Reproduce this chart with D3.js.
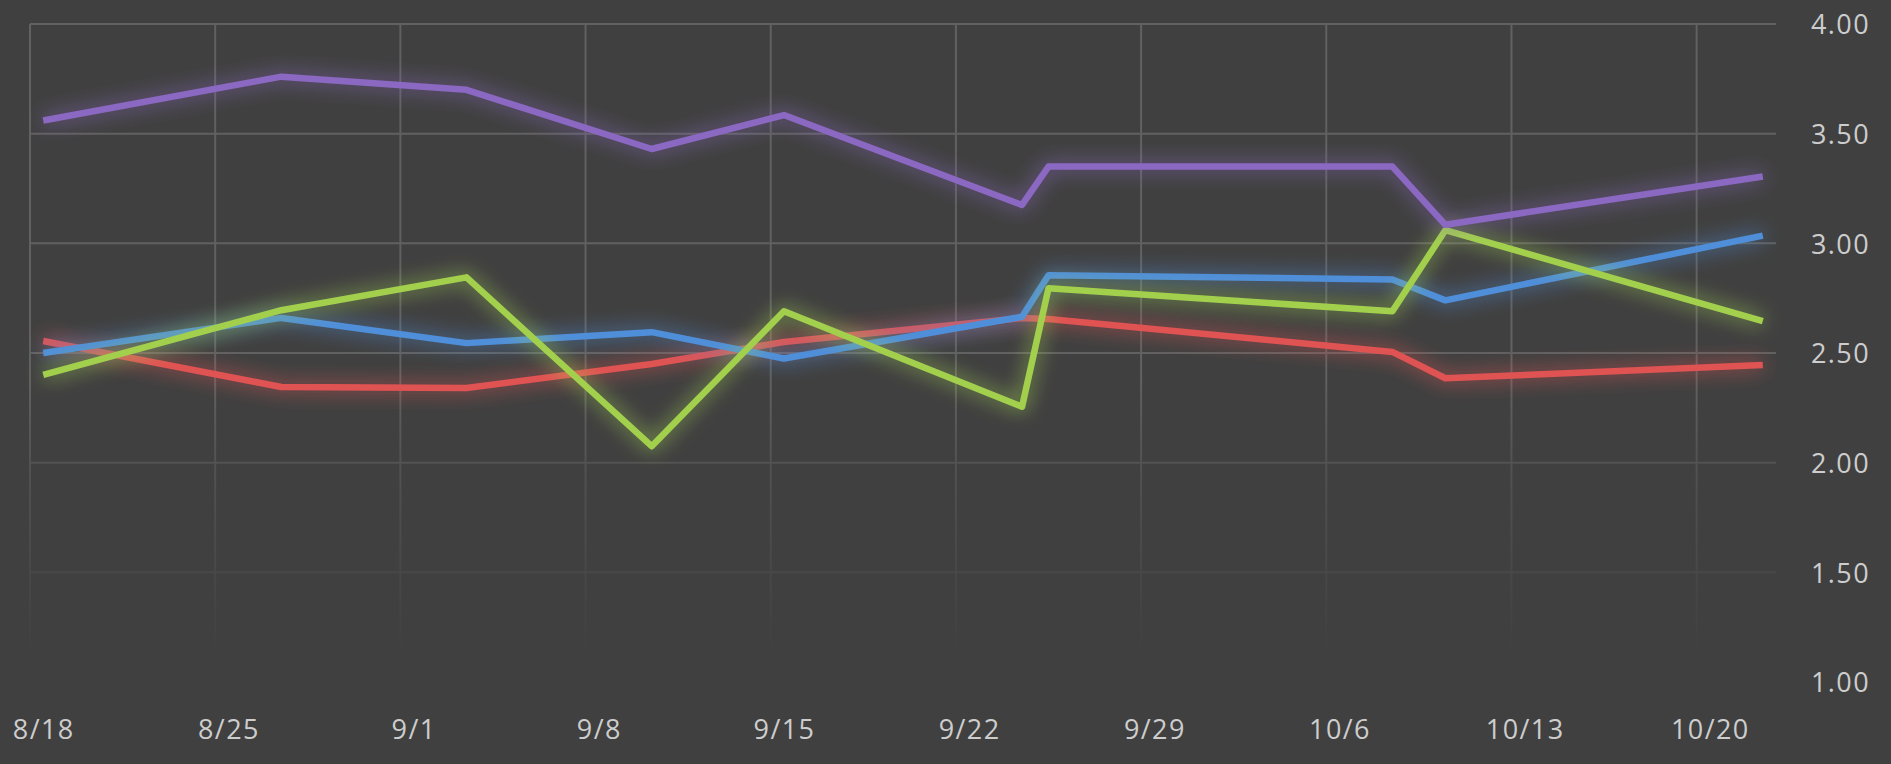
<!DOCTYPE html>
<html>
<head>
<meta charset="utf-8">
<script src="https://cdn.jsdelivr.net/npm/d3@7"></script>
<style>
	html, body { margin: 0; padding: 0; background: #404040; overflow: hidden; }
	text { font-family: "Open Sans", sans-serif; }
</style>
</head>
<body>
<div id="chart-area"></div>
<script>
// DATA
const dates = ["2019-08-18", "2019-08-27", "2019-09-03", "2019-09-10", "2019-09-15",
	"2019-09-24", "2019-09-25", "2019-10-08", "2019-10-10", "2019-10-22"]
const redValues    = [2.555, 2.345, 2.34, 2.45, 2.55, 2.66, 2.655, 2.505, 2.385, 2.445]
const blueValues   = [2.50, 2.66, 2.545, 2.595, 2.475, 2.665, 2.855, 2.835, 2.74, 3.035]
const purpleValues = [3.56, 3.76, 3.70, 3.43, 3.585, 3.175, 3.35, 3.35, 3.085, 3.305]
const greenValues  = [2.40, 2.695, 2.845, 2.075, 2.69, 2.255, 2.795, 2.69, 3.06, 2.645]
const xTickLabels = ["8/18", "8/25", "9/1", "9/8", "9/15", "9/22", "9/29", "10/6", "10/13", "10/20"]
const yTicks = [1.00, 1.50, 2.00, 2.50, 3.00, 3.50, 4.00]

// drawing order: first is at the bottom
const series = [
	{ name: "red",    color: "#e05252", values: redValues },
	{ name: "blue",   color: "#4f8fd9", values: blueValues },
	{ name: "green",  color: "#a2d04e", values: greenValues },
	{ name: "purple", color: "#8b68c2", values: purpleValues }
]

// AREA
const AREA_WIDTH = 1891
const AREA_HEIGHT = 764
const PLOT = { LEFT: 30, RIGHT: 1776, TOP: 24, BOTTOM: 682 }

const parse = d3.utcParse("%Y-%m-%d")
const dayDates = dates.map(parse)
const tickDates = xTickLabels.map(s => {
	const [m, d] = s.split("/").map(Number)
	return new Date(Date.UTC(2019, m - 1, d))
})

const svg = d3.select("#chart-area").append("svg")
	.attr("width", AREA_WIDTH)
	.attr("height", AREA_HEIGHT)

// background
svg.append("rect")
	.attr("width", AREA_WIDTH)
	.attr("height", AREA_HEIGHT)
	.attr("fill", "#404040")

const defs = svg.append("defs")

// grid fades out towards the bottom
const fade = defs.append("linearGradient")
	.attr("id", "fade")
	.attr("gradientUnits", "userSpaceOnUse")
	.attr("x1", 0).attr("x2", 0)
	.attr("y1", 0).attr("y2", AREA_HEIGHT)
fade.append("stop").attr("offset", 380 / AREA_HEIGHT).attr("stop-color", "#fff")
fade.append("stop").attr("offset", 470 / AREA_HEIGHT).attr("stop-color", "#888")
fade.append("stop").attr("offset", 660 / AREA_HEIGHT).attr("stop-color", "#000")
defs.append("mask")
	.attr("id", "gridMask")
	.attr("maskUnits", "userSpaceOnUse")
	.attr("x", 0).attr("y", 0)
	.attr("width", AREA_WIDTH).attr("height", AREA_HEIGHT)
	.append("rect")
	.attr("width", AREA_WIDTH)
	.attr("height", AREA_HEIGHT)
	.attr("fill", "url(#fade)")

// soft glow around the lines
const glow = defs.append("filter")
	.attr("id", "glow")
	.attr("x", "-10%").attr("y", "-40%")
	.attr("width", "120%").attr("height", "180%")
glow.append("feGaussianBlur")
	.attr("in", "SourceGraphic")
	.attr("stdDeviation", 10)
	.attr("result", "blur")
glow.append("feComponentTransfer")
	.attr("in", "blur")
	.attr("result", "soft")
	.append("feFuncA").attr("type", "linear").attr("slope", 0.95)
const merge = glow.append("feMerge")
merge.append("feMergeNode").attr("in", "soft")
merge.append("feMergeNode").attr("in", "SourceGraphic")

// SCALES (category dates sit between the tick marks, half a day each side)
const x = d3.scaleUtc()
	.domain([d3.utcHour.offset(dayDates[0], -12), d3.utcHour.offset(dayDates[dayDates.length - 1], 12)])
	.range([PLOT.LEFT, PLOT.RIGHT])

const y = d3.scaleLinear()
	.domain([1, 4])
	.range([PLOT.BOTTOM, PLOT.TOP])

// GRID
const grid = svg.append("g").attr("mask", "url(#gridMask)")

grid.selectAll(".hgrid")
	.data(yTicks)
	.enter().append("line")
	.attr("class", "hgrid")
	.attr("x1", PLOT.LEFT)
	.attr("x2", PLOT.RIGHT)
	.attr("y1", d => y(d))
	.attr("y2", d => y(d))
	.attr("stroke", "#616161")
	.attr("stroke-width", 2)

grid.selectAll(".vgrid")
	.data(tickDates)
	.enter().append("line")
	.attr("class", "vgrid")
	.attr("x1", d => x(d3.utcHour.offset(d, -12)))
	.attr("x2", d => x(d3.utcHour.offset(d, -12)))
	.attr("y1", PLOT.TOP)
	.attr("y2", PLOT.BOTTOM)
	.attr("stroke", "#616161")
	.attr("stroke-width", 2)

// AXES
const xAxisCall = d3.axisBottom(x)
	.tickValues(tickDates)
	.tickFormat((d, i) => xTickLabels[i])
	.tickSize(0)
	.tickPadding(0)

const xAxis = svg.append("g")
	.attr("transform", "translate(0, 739)")
	.call(xAxisCall)
xAxis.select(".domain").remove()
xAxis.selectAll("text")
	.attr("dy", 0)
	.attr("fill", "#cdcdcd")
	.attr("font-size", "27px")
	.attr("letter-spacing", "1.4px")

const yAxisCall = d3.axisRight(y)
	.tickValues(yTicks)
	.tickFormat(d3.format(".2f"))
	.tickSize(0)
	.tickPadding(0)

const yAxis = svg.append("g")
	.attr("transform", "translate(1870, 0)")
	.call(yAxisCall)
yAxis.select(".domain").remove()
yAxis.selectAll("text")
	.attr("text-anchor", "end")
	.attr("dy", "0.36em")
	.attr("fill", "#cdcdcd")
	.attr("font-size", "27px")
	.attr("letter-spacing", "1.4px")

// LINES
const line = d3.line()
	.x((d, i) => x(dayDates[i]))
	.y(d => y(d))

svg.append("g")
	.selectAll("path")
	.data(series)
	.enter().append("path")
	.attr("d", d => line(d.values))
	.attr("fill", "none")
	.attr("stroke", d => d.color)
	.attr("stroke-width", 6.5)
	.attr("stroke-linejoin", "round")
	.attr("stroke-linecap", "butt")
	.attr("filter", "url(#glow)")
</script>
</body>
</html>
